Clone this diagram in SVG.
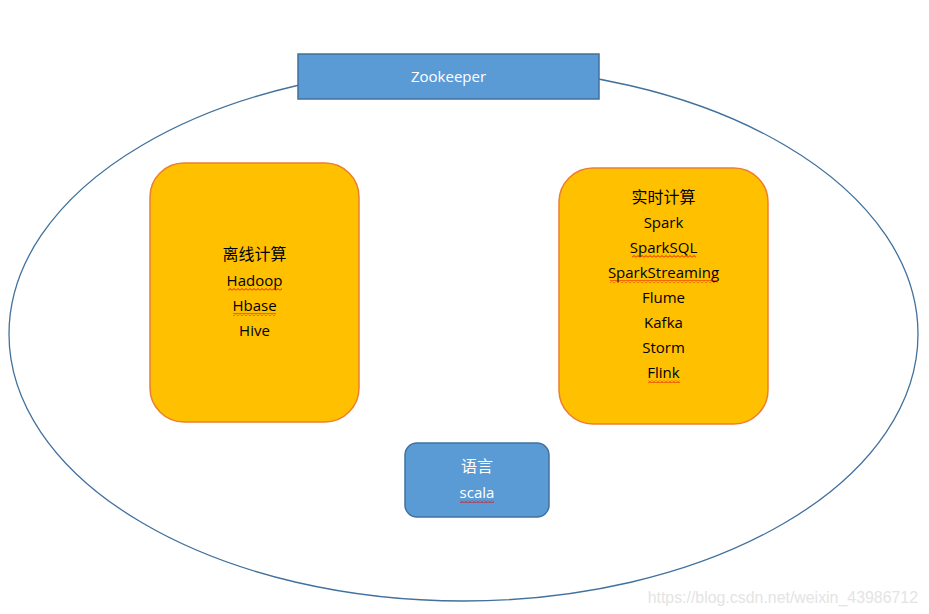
<svg xmlns="http://www.w3.org/2000/svg" width="929" height="614" viewBox="0 0 929 614">
<defs>
<style>
.t{font-family:"Open Sans","Noto Sans","Noto Sans CJK SC",sans-serif;font-size:15px;text-anchor:middle;fill:#000}
.c{font-size:16px}
.w{fill:#fff}
.box{fill:#FFC000;stroke:#ED7D31;stroke-width:1.5}
.blue{fill:#5B9BD5;stroke:#41719C;stroke-width:1.5}
</style>
<pattern id="wv" width="4" height="3" patternUnits="userSpaceOnUse"><path d="M0,2.5 L2,0.5 L4,2.5" fill="none" stroke="#E00000" stroke-width="0.9"/></pattern>
</defs>
<rect width="929" height="614" fill="#fff"/>
<g id="ring">
<ellipse cx="463.5" cy="334" rx="454.5" ry="267" fill="none" stroke="#41719C" stroke-width="1.3"/>
</g>
<g id="zookeeper">
<rect class="blue" x="298" y="54" width="301" height="45"/>
<text class="t w" x="448.5" y="82">Zookeeper</text>
</g>
<g id="offline">
<rect class="box" x="150" y="163" width="209" height="259" rx="34"/>
<text class="t c" x="254.5" y="260">离线计算</text>
<text class="t" x="254.5" y="286">Hadoop</text>
<rect x="228" y="288" width="54" height="3" fill="url(#wv)"/>
<text class="t" x="254.5" y="311">Hbase</text>
<rect x="233" y="313" width="43" height="3" fill="url(#wv)"/>
<text class="t" x="254.5" y="336">Hive</text>
</g>
<g id="realtime">
<rect class="box" x="559" y="168" width="209" height="256" rx="34"/>
<text class="t c" x="663.5" y="203">实时计算</text>
<text class="t" x="663.5" y="228">Spark</text>
<text class="t" x="663.5" y="253">SparkSQL</text>
<rect x="632" y="255" width="64" height="3" fill="url(#wv)"/>
<text class="t" x="663.5" y="278">SparkStreaming</text>
<rect x="610" y="280" width="108" height="3" fill="url(#wv)"/>
<text class="t" x="663.5" y="303">Flume</text>
<text class="t" x="663.5" y="328">Kafka</text>
<text class="t" x="663.5" y="353">Storm</text>
<text class="t" x="663.5" y="378">Flink</text>
<rect x="648" y="380" width="32" height="3" fill="url(#wv)"/>
</g>
<g id="language">
<rect class="blue" x="405" y="443" width="144" height="74" rx="12"/>
<text class="t w c" x="477" y="472">语言</text>
<text class="t w" x="477" y="498">scala</text>
<rect x="460" y="500" width="34" height="3" fill="url(#wv)"/>
</g>
<g id="connectors"></g>
<text x="918" y="603" text-anchor="end" style="font-family:'Liberation Sans',Arial,sans-serif;font-size:15.9px;fill:#e4e4e4">https://blog.csdn.net/weixin_43986712</text>
</svg>
